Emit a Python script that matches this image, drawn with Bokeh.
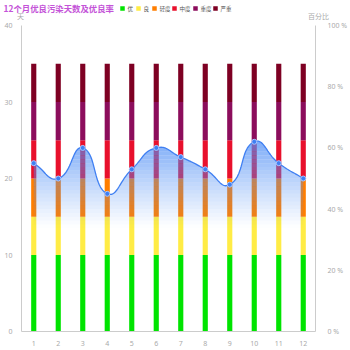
import numpy as np
from bokeh.plotting import figure
from bokeh.layouts import column
from bokeh.models import Range1d, LinearAxis, FixedTicker, ColumnDataSource
from bokeh.core.properties import value
from bokeh.embed import file_html
from bokeh.resources import INLINE

months = [str(i) for i in range(1, 13)]
good = [10] * 12        # 优
moderate = [5] * 12     # 良
light = [5] * 12        # 轻度
medium = [5] * 12       # 中度
heavy = [5] * 12        # 重度
severe = [5] * 12       # 严重
rate = [55, 50, 60, 45, 53, 60, 57, 53, 48, 62, 55, 50]  # 优良率 %

title = "12个月优良污染天数及优良率"
levels = ["优", "良", "轻度", "中度", "重度", "严重"]
colors = ["#00e400", "#ffec45", "#ff7e00", "#e8102c", "#8c0d5c", "#7e0023"]
left_name = "天"
right_name = "百分比"

W = 350
HH = 20            # header height
H = 350 - HH
L, R, T, B = 21, 34, 5, 19

# ---- header figure (pixel coordinates, y downward) ----
hd = figure(width=W, height=HH, output_backend="svg", toolbar_location=None,
            x_range=Range1d(0, W), y_range=Range1d(HH, 0),
            min_border=0, min_border_left=0, min_border_right=0,
            min_border_top=0, min_border_bottom=0)
hd.frame_align = False
hd.axis.visible = False
hd.grid.visible = False
hd.outline_line_color = None
hd.text(x=[3], y=[7], text=[title], text_font=value("Noto Sans CJK SC"),
        text_font_size="8.4px", text_font_style="bold", text_color="#c453d8",
        text_baseline="middle", text_align="left")
lx = np.array([122, 138, 154, 174, 195, 215])
hd.rect(x=lx, y=[8] * 6, width=4.5, height=4.5, fill_color=colors, line_color=None)
hd.text(x=lx + 5, y=[8] * 6, text=levels, text_font=value("Noto Sans CJK SC"),
        text_font_size="5.5px", text_color="#555555", text_baseline="middle", text_align="left")
hd.text(x=[20, 318], y=[15, 15], text=[left_name, right_name], text_font=value("Noto Sans CJK SC"),
        text_font_size="7px", text_color="#aaaaaa", text_baseline="middle", text_align="center")

# ---- main chart ----
p = figure(width=W, height=H, output_backend="svg", toolbar_location=None,
           x_range=Range1d(0.5, 12.5), y_range=Range1d(0, 40),
           min_border_left=L, min_border_right=R, min_border_top=T, min_border_bottom=B)
p.frame_align = False
p.outline_line_color = None
p.grid.visible = False

xs = np.arange(1, 13)
src = ColumnDataSource(dict(x=xs, good=good, moderate=moderate, light=light,
                            medium=medium, heavy=heavy, severe=severe))
p.vbar_stack(["good", "moderate", "light", "medium", "heavy", "severe"], x="x", width=0.21,
             color=colors, source=src, line_width=0)

p.extra_y_ranges = {"pct": Range1d(0, 100)}
ra = LinearAxis(y_range_name="pct", ticker=FixedTicker(ticks=[0, 20, 40, 60, 80, 100]))
ra.major_label_overrides = {v: f"{v} %" for v in [0, 20, 40, 60, 80, 100]}
p.add_layout(ra, "right")

for ax in [p.yaxis[0], ra, p.xaxis[0]]:
    ax.axis_line_color = "#cccccc"
    ax.major_tick_line_color = None
    ax.minor_tick_line_color = None
    ax.major_label_text_color = "#aaaaaa"
    ax.major_label_text_font_size = "7px"
    ax.major_label_text_font = "Noto Sans"
p.yaxis[0].ticker = FixedTicker(ticks=[0, 10, 20, 30, 40])
p.yaxis[0].major_label_standoff = 3
ra.major_label_standoff = 6
p.xaxis[0].ticker = FixedTicker(ticks=list(range(1, 13)))
p.xaxis[0].major_label_standoff = 3

# smooth curve (echarts-like bezier smoothing in screen space)
sx = (W - L - R) / 12.0
sy = (H - T - B) / 40.0
ry = np.array(rate) * 40 / 100.0
P = np.column_stack([xs * sx, ry * sy])
n = len(P)
cps = []
for i in range(n):
    prev = P[i - 1] if i > 0 else P[i]
    nxt = P[i + 1] if i < n - 1 else P[i]
    v = (nxt - prev) * 0.5
    d0 = np.linalg.norm(P[i] - prev)
    d1 = np.linalg.norm(P[i] - nxt)
    s = d0 + d1
    if s > 0:
        d0 /= s
        d1 /= s
    cps.append((P[i] - v * d0, P[i] + v * d1))
cx, cy = [], []
tt = np.linspace(0, 1, 25)
for i in range(n - 1):
    p0, p3 = P[i], P[i + 1]
    p1, p2 = cps[i][1], cps[i + 1][0]
    seg = ((1 - tt) ** 3)[:, None] * p0 + (3 * (1 - tt) ** 2 * tt)[:, None] * p1 + \
          (3 * (1 - tt) * tt ** 2)[:, None] * p2 + (tt ** 3)[:, None] * p3
    if i > 0:
        seg = seg[1:]
    cx.extend(seg[:, 0] / sx)
    cy.extend(seg[:, 1] / sy)
cx = np.array(cx)
cy = np.array(cy)

# gradient area
lv = np.arange(12.0, 26.01, 0.5)
for j in range(len(lv) - 1):
    mid = (lv[j] + lv[j + 1]) / 2
    a = np.clip((mid - 13.5) / (25 - 13.5), 0, 1) ** 1.1 * 0.75
    if a <= 0:
        continue
    y1 = np.minimum(cy, lv[j])
    y2 = np.minimum(cy, lv[j + 1])
    p.varea(x=cx, y1=y1, y2=y2, fill_color="#4f8ef5", fill_alpha=a)

p.line(cx, cy, line_color="#3f7ff2", line_width=1.3)
p.scatter(xs, ry, size=5, fill_color="#3f7ff2", line_color="#a9c6ff", line_width=1)

layout = column(hd, p, spacing=0)
open("out.html", "w").write(file_html(layout, INLINE))
